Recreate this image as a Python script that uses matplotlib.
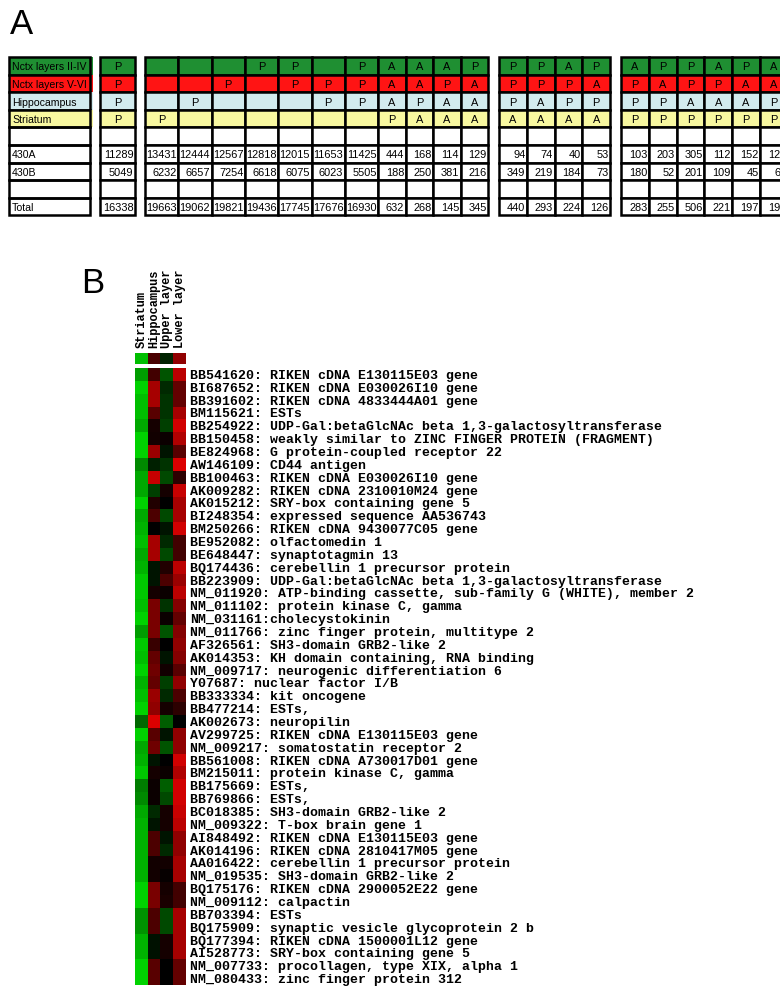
import numpy as np
import matplotlib
matplotlib.use("Agg")
import matplotlib.pyplot as plt
from matplotlib.patches import Rectangle
from matplotlib.colors import LinearSegmentedColormap

# ---- panel A data -------------------------------------------------------
row_labels = ["Nctx layers II-IV", "Nctx layers V-VI", "Hippocampus", "Striatum"]
row_colors = ["#1f8f32", "#ff1414", "#d2ebee", "#f8f8a0"]

# calls per column (group 1 | group 2 | group 3 | group 4)
calls_upper = ["P", "", "", "", "P", "P", "", "P", "A", "A", "A", "P",
               "P", "P", "A", "P", "A", "P", "P", "A", "P", "A"]
calls_lower = ["P", "", "", "P", "", "P", "P", "P", "A", "A", "P", "A",
               "P", "P", "P", "A", "P", "A", "P", "P", "A", "A"]
calls_hippo = ["P", "", "P", "", "", "", "P", "P", "A", "P", "A", "A",
               "P", "A", "P", "P", "P", "P", "A", "A", "A", "P"]
calls_striatum = ["P", "P", "", "", "", "", "", "", "P", "A", "A", "A",
                  "A", "A", "A", "A", "P", "P", "P", "P", "P", "P"]

counts_430a = [11289, 13431, 12444, 12567, 12818, 12015, 11653, 11425, 444, 168, 114, 129,
               94, 74, 40, 53, 103, 203, 305, 112, 152, 127]
counts_430b = [5049, 6232, 6657, 7254, 6618, 6075, 6023, 5505, 188, 250, 381, 216,
               349, 219, 184, 73, 180, 52, 201, 109, 45, 66]
counts_total = [16338, 19663, 19062, 19821, 19436, 17745, 17676, 16930, 632, 268, 145, 345,
                440, 293, 224, 126, 283, 255, 506, 221, 197, 193]

# ---- panel B data -------------------------------------------------------
tissues = ["Striatum", "Hippocampus", "Upper layer", "Lower layer"]
header_means = [-0.9, 0.33, -0.17, 0.65]

genes = [
    "BB541620: RIKEN cDNA E130115E03 gene",
    "BI687652: RIKEN cDNA E030026I10 gene",
    "BB391602: RIKEN cDNA 4833444A01 gene",
    "BM115621: ESTs",
    "BB254922: UDP-Gal:betaGlcNAc beta 1,3-galactosyltransferase",
    "BB150458: weakly similar to ZINC FINGER PROTEIN (FRAGMENT)",
    "BE824968: G protein-coupled receptor 22",
    "AW146109: CD44 antigen",
    "BB100463: RIKEN cDNA E030026I10 gene",
    "AK009282: RIKEN cDNA 2310010M24 gene",
    "AK015212: SRY-box containing gene 5",
    "BI248354: expressed sequence AA536743",
    "BM250266: RIKEN cDNA 9430077C05 gene",
    "BE952082: olfactomedin 1",
    "BE648447: synaptotagmin 13",
    "BQ174436: cerebellin 1 precursor protein",
    "BB223909: UDP-Gal:betaGlcNAc beta 1,3-galactosyltransferase",
    "NM_011920: ATP-binding cassette, sub-family G (WHITE), member 2",
    "NM_011102: protein kinase C, gamma",
    "NM_031161:cholecystokinin",
    "NM_011766: zinc finger protein, multitype 2",
    "AF326561: SH3-domain GRB2-like 2",
    "AK014353: KH domain containing, RNA binding",
    "NM_009717: neurogenic differentiation 6",
    "Y07687: nuclear factor I/B",
    "BB333334: kit oncogene",
    "BB477214: ESTs,",
    "AK002673: neuropilin",
    "AV299725: RIKEN cDNA E130115E03 gene",
    "NM_009217: somatostatin receptor 2",
    "BB561008: RIKEN cDNA A730017D01 gene",
    "BM215011: protein kinase C, gamma",
    "BB175669: ESTs,",
    "BB769866: ESTs,",
    "BC018385: SH3-domain GRB2-like 2",
    "NM_009322: T-box brain gene 1",
    "AI848492: RIKEN cDNA E130115E03 gene",
    "AK014196: RIKEN cDNA 2810417M05 gene",
    "AA016422: cerebellin 1 precursor protein",
    "NM_019535: SH3-domain GRB2-like 2",
    "BQ175176: RIKEN cDNA 2900052E22 gene",
    "NM_009112: calpactin",
    "BB703394: ESTs",
    "BQ175909: synaptic vesicle glycoprotein 2 b",
    "BQ177394: RIKEN cDNA 1500001L12 gene",
    "AI528773: SRY-box containing gene 5",
    "NM_007733: procollagen, type XIX, alpha 1",
    "NM_080433: zinc finger protein 312",
]

# log-ratio style values, -1 = green, +1 = red
striatum = [-0.75, -1.0, -0.9, -0.9, -0.8, -1.0, -1.0, -0.65, -0.8, -0.8, -1.0, -0.8,
            -0.85, -0.9, -0.8, -0.85, -0.95, -0.95, -0.9, -1.0, -0.75, -0.95, -0.9, -1.0,
            -0.85, -0.9, -1.0, -0.5, -1.0, -0.8, -0.85, -0.95, -0.6, -0.65, -0.8, -0.85,
            -0.85, -0.85, -0.85, -0.85, -1.0, -1.0, -0.7, -0.7, -0.85, -0.85, -1.0, -1.0]
hippocampus = [0.3, 0.75, 0.75, 0.4, 0.1, 0.08, 0.7, -0.15, 0.9, -0.3, 0.15, 0.35,
               0.0, 0.75, 0.75, -0.1, -0.1, 0.1, 0.55, 0.55, 0.55, 0.25, 0.45, 0.5,
               0.45, 0.7, 0.65, 1.0, 0.4, 0.5, -0.1, 0.1, 0.05, 0.05, -0.2, -0.1,
               0.35, 0.35, 0.08, 0.08, 0.55, 0.55, 0.35, 0.35, -0.08, -0.08, 0.4, 0.4]
upper = [-0.4, -0.2, -0.25, -0.25, -0.3, 0.05, -0.1, -0.25, -0.35, 0.1, 0.0, -0.35,
         -0.1, -0.2, -0.35, 0.15, 0.35, 0.05, -0.25, 0.05, -0.4, 0.0, -0.1, 0.08,
         -0.3, -0.2, 0.1, -0.45, -0.1, -0.4, 0.0, 0.05, -0.45, -0.35, 0.1, 0.1,
         -0.1, -0.2, 0.08, 0.03, 0.1, 0.12, -0.35, -0.35, 0.1, 0.1, 0.0, 0.0]
lower = [0.85, 0.45, 0.45, 0.75, 0.95, 0.8, 0.4, 1.0, 0.2, 0.9, 0.75, 0.75,
         0.95, 0.3, 0.3, 0.85, 0.7, 0.85, 0.6, 0.45, 0.6, 0.65, 0.6, 0.4,
         0.65, 0.35, 0.2, 0.0, 0.65, 0.65, 0.95, 0.8, 0.95, 0.95, 0.9, 0.85,
         0.65, 0.65, 0.75, 0.75, 0.3, 0.3, 0.75, 0.75, 0.75, 0.75, 0.45, 0.45]

# ---- figure ---------------------------------------------------------------
W, H = 780, 991
fig = plt.figure(figsize=(W / 100, H / 100), dpi=100)
ax = fig.add_axes([0, 0, 1, 1])
ax.set_xlim(0, W)
ax.set_ylim(H, 0)
ax.axis("off")

sans = "Liberation Sans"
ax.text(10, 34, "A", fontsize=25, family=sans)
ax.text(81, 293, "B", fontsize=25, family=sans)

# table layout (pixels)
top, row_h = 57, 17.6
col_w = [35] + [33.3] * 7 + [27.5] * 4 + [27.8] * 4 + [27.8] * 6
group_start = {0: 100, 1: 145, 12: 499, 16: 621}
xs = []
x = 0
for i, w in enumerate(col_w):
    if i in group_start:
        x = group_start[i]
    xs.append(x)
    x += w

calls = [calls_upper, calls_lower, calls_hippo, calls_striatum]
numbers = {5: counts_430a, 6: counts_430b, 8: counts_total}
left_labels = {5: "430A", 6: "430B", 8: "Total"}
lw = 1.8
fs = 7.9

for r in range(9):
    y = top + r * row_h
    fc = row_colors[r] if r < 4 else "white"
    # label column
    if r < 4:
        ax.add_patch(Rectangle((9, y), 84, row_h, facecolor=fc, edgecolor="none"))
    ax.add_patch(Rectangle((9, y), 81, row_h, facecolor="none", edgecolor="black", lw=lw))
    txt = row_labels[r] if r < 4 else left_labels.get(r, "")
    ax.text(12, y + row_h / 2 + 1.5, txt, ha="left", va="center", fontsize=7.6, family=sans)
    for c, (cx, w) in enumerate(zip(xs, col_w)):
        ax.add_patch(Rectangle((cx, y), w, row_h, facecolor=fc, edgecolor="black", lw=lw))
        if r < 4 and calls[r][c]:
            ax.text(cx + w / 2, y + row_h / 2 + 1.5, calls[r][c], ha="center", va="center",
                    fontsize=fs, family=sans)
        if r in numbers:
            ax.text(cx + w - 1.5, y + row_h / 2 + 1.5, str(numbers[r][c]), ha="right",
                    va="center", fontsize=fs, family=sans)

# ---- heatmap ----------------------------------------------------------------
cmap = LinearSegmentedColormap.from_list("gr", ["#00d200", "#000000", "#dc0000"])
mono = dict(family="Liberation Mono", weight="bold")

def fig_rect(x0, y0, x1, y1):
    return [x0 / W, 1 - y1 / H, (x1 - x0) / W, (y1 - y0) / H]

ax_hd = fig.add_axes(fig_rect(135, 352.5, 186, 364))
ax_hd.imshow(np.array([header_means]), cmap=cmap, vmin=-1, vmax=1, aspect="auto",
             interpolation="nearest")
ax_hd.xaxis.tick_top()
ax_hd.set_xticks(range(len(tissues)))
ax_hd.set_xticklabels(tissues, rotation=90, fontsize=8.6, **mono)
ax_hd.set_yticks([])
ax_hd.tick_params(length=0, pad=3)
for s in ax_hd.spines.values():
    s.set_visible(False)

values = np.array([striatum, hippocampus, upper, lower]).T
ax_hm = fig.add_axes(fig_rect(135, 368, 186, 985))
ax_hm.imshow(values, cmap=cmap, vmin=-1, vmax=1, aspect="auto", interpolation="nearest")
ax_hm.set_xticks([])
ax_hm.yaxis.tick_right()
ax_hm.set_yticks(range(len(genes)))
ax_hm.set_yticklabels(genes, fontsize=9.5, **mono)
ax_hm.tick_params(length=0, pad=3)
for s in ax_hm.spines.values():
    s.set_visible(False)

fig.savefig("out.png", dpi=100)
